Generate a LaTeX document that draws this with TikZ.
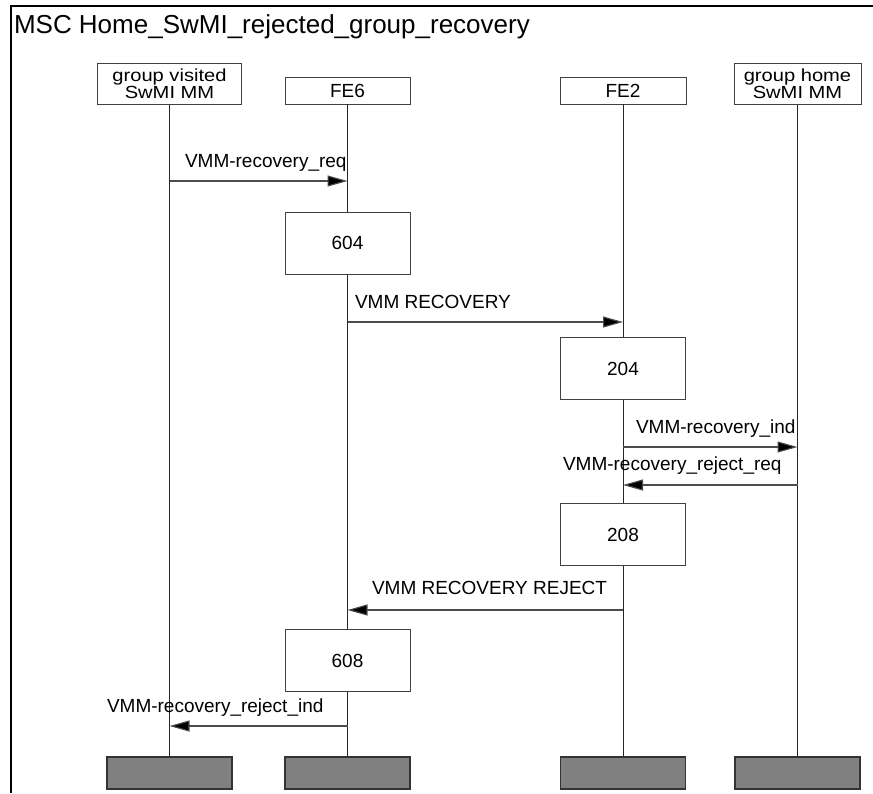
\documentclass[tikz,border=0pt]{standalone}
\usepackage{fontspec}
\setmainfont{Liberation Sans}
\newfontfamily\hdfont[FakeStretch=1.15]{Liberation Sans}
\usetikzlibrary{arrows.meta}
\begin{document}
\begin{tikzpicture}[x=1pt,y=-1pt,
  every node/.style={inner sep=0pt, outer sep=0pt},
  txt/.style={font=\fontsize{19}{19}\selectfont},
  head/.style={draw=black!75, line width=0.9pt, fill=white, align=center,
    font=\hdfont\fontsize{17.5}{12.5}\selectfont},
  head1/.style={draw=black!75, line width=0.9pt, fill=white, align=center,
    font=\fontsize{19}{19}\selectfont},
  proc/.style={draw=black!75, line width=0.9pt, fill=white, minimum width=125pt,
    minimum height=62pt, font=\fontsize{19}{19}\selectfont},
  endbox/.style={draw=black!80, line width=1.2pt, fill=gray, minimum width=125pt, minimum height=32pt},
  life/.style={line width=0.9pt, draw=black!85},
  msg/.style={line width=1.1pt, draw=black!70, -{Triangle[length=20pt,width=11pt,fill=black]}},
  lbl/.style={txt, anchor=base west}]
\useasboundingbox (0,0) rectangle (873,793);
% frame
\draw[line width=2pt] (11,793) -- (11,6) -- (873,6);
\node[anchor=base west, font=\fontsize{26}{26}\selectfont] (title) at (14,33) {MSC Home\_SwMI\_rejected\_group\_recovery};
% headers
\node[head, minimum width=144pt, minimum height=41pt] (h1) at (169.5,84) {group visited\\SwMI MM};
\node[head1, minimum width=125pt, minimum height=27pt] (h2) at (347.5,90.5) {FE6};
\node[head1, minimum width=126pt, minimum height=27pt] (h3) at (623,90.5) {FE2};
\node[head, minimum width=127pt, minimum height=41pt] (h4) at (797.5,84) {group home\\SwMI MM};
% end boxes
\node[endbox] (e1) at (169.5,773) {};
\node[endbox] (e2) at (347.5,773) {};
\node[endbox] (e3) at (623,773) {};
\node[endbox] (e4) at (797.5,773) {};
% lifelines
\draw[life] (h1.south) -- (e1.north);
\draw[life] (h2.south) -- (e2.north);
\draw[life] (h3.south) -- (e3.north);
\draw[life] (h4.south) -- (e4.north);
% process boxes
\node[proc] (p604) at (347.5,243) {604};
\node[proc] (p204) at (623,368.5) {204};
\node[proc] (p208) at (623,534.5) {208};
\node[proc] (p608) at (347.5,660.5) {608};
% message end points on lifelines
\coordinate (m1a) at (h1.south |- 0,181);
\coordinate (m1b) at (h2.south |- 0,181);
\coordinate (m2a) at (h2.south |- 0,322);
\coordinate (m2b) at (h3.south |- 0,322);
\coordinate (m3a) at (h3.south |- 0,447);
\coordinate (m3b) at (h4.south |- 0,447);
\coordinate (m4a) at (h4.south |- 0,485);
\coordinate (m4b) at (h3.south |- 0,485);
\coordinate (m5a) at (h3.south |- 0,610);
\coordinate (m5b) at (h2.south |- 0,610);
\coordinate (m6a) at (h2.south |- 0,726);
\coordinate (m6b) at (h1.south |- 0,726);
% messages
\draw[msg] (m1a) -- (m1b);
\draw[msg] (m2a) -- (m2b);
\draw[msg] (m3a) -- (m3b);
\draw[msg] (m4a) -- (m4b);
\draw[msg] (m5a) -- (m5b);
\draw[msg] (m6a) -- (m6b);
% labels
\node[lbl] (l1) at (185,167) {VMM-recovery\_req};
\node[lbl] (l2) at (355,308) {VMM RECOVERY};
\node[lbl] (l3) at (636,433) {VMM-recovery\_ind};
\node[lbl] (l4) at (563,470) {VMM-recovery\_reject\_req};
\node[lbl] (l5) at (372,594) {VMM RECOVERY REJECT};
\node[lbl] (l6) at (107,712) {VMM-recovery\_reject\_ind};
\end{tikzpicture}
\end{document}
